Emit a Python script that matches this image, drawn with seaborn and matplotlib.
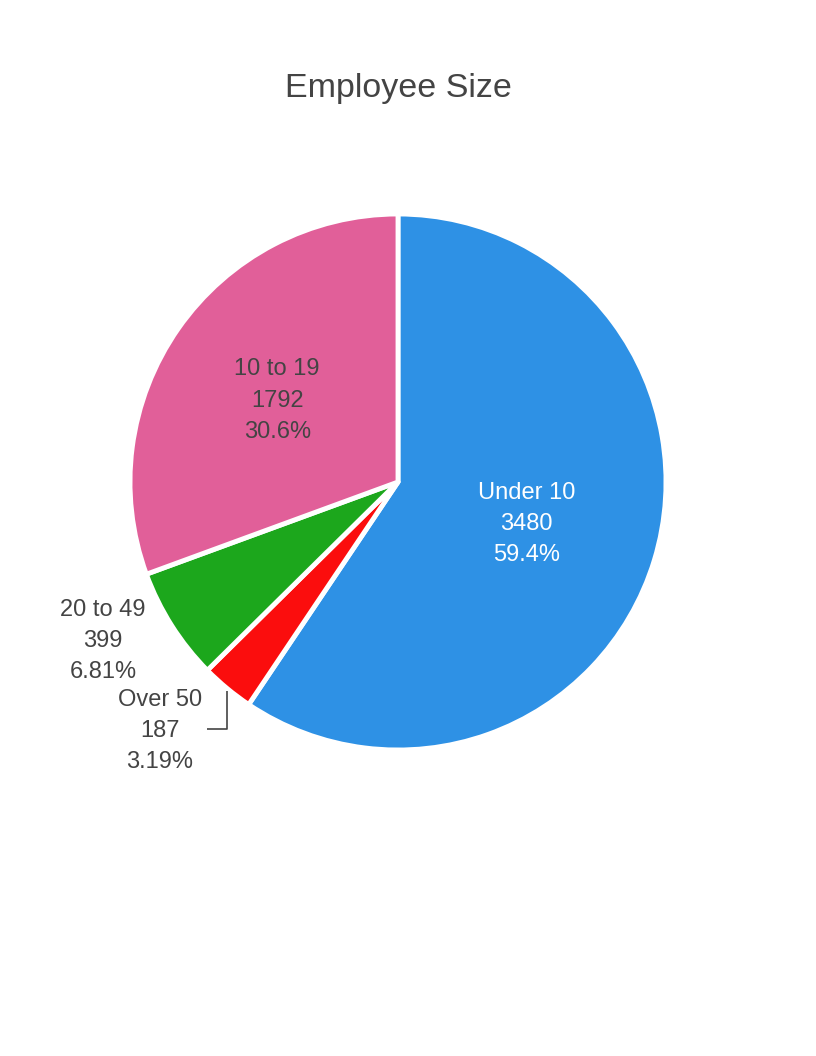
import numpy as np
import matplotlib
matplotlib.use("Agg")
import matplotlib.pyplot as plt
import seaborn as sns

categories = ["Under 10", "Over 50", "20 to 49", "10 to 19"]
values = [3480, 187, 399, 1792]
pct_labels = ["59.4%", "3.19%", "6.81%", "30.6%"]
colors = ["#2E91E5", "#FB0D0D", "#1CA71C", "#E15F99"]

sns.set_theme(style="white")
plt.rcParams['font.family'] = ['Liberation Sans', 'DejaVu Sans']

W, H = 816, 1056
fig = plt.figure(figsize=(W / 100, H / 100), dpi=100)
cx, cy, R = 398, 482, 268
k = 1.45
size = 2 * R * k
ax = fig.add_axes([(cx - size / 2) / W, (H - cy - size / 2) / H, size / W, size / H])

wedges, _ = ax.pie(values, colors=colors, startangle=90, counterclock=False,
                   radius=1.0, wedgeprops=dict(edgecolor="white", linewidth=3.5,
                                               joinstyle="round"))
ax.set_xlim(-k, k)
ax.set_ylim(-k, k)
ax.set_aspect("equal")
ax.axis("off")

fs = 17
ls = 1.55
dy = -3 / R
txt_dark = "#444444"
for i, w in enumerate(wedges):
    mid = np.deg2rad((w.theta1 + w.theta2) / 2)
    label = f"{categories[i]}\n{values[i]}\n{pct_labels[i]}"
    if categories[i] == "Under 10":
        x, y = 0.5 * np.cos(mid), 0.5 * np.sin(mid) + dy
        ax.text(x, y, label, ha="center", va="center", fontsize=fs, color="white",
                linespacing=ls)
    elif categories[i] == "10 to 19":
        x, y = 0.55 * np.cos(mid), 0.55 * np.sin(mid) + dy
        ax.text(x, y, label, ha="center", va="center", fontsize=fs, color=txt_dark,
                linespacing=ls)
    elif categories[i] == "20 to 49":
        x, y = (103 - cx) / R, (cy - 641) / R
        ax.text(x, y, label, ha="center", va="center", fontsize=fs, color=txt_dark,
                linespacing=ls)
    else:
        ex, ey = np.cos(mid), np.sin(mid)
        ly = (cy - 729) / R
        lx_end = (207 - cx) / R
        ax.plot([ex, ex, lx_end], [ey - 0.01, ly, ly], color=txt_dark, lw=1.2,
                solid_capstyle="butt")
        x, y = (160 - cx) / R, (cy - 731) / R
        ax.text(x, y, label, ha="center", va="center", fontsize=fs, color=txt_dark,
                linespacing=ls)

fig.text(398 / W, 1 - 89 / H, "Employee Size", ha="center", va="center",
         fontsize=24.5, color=txt_dark)

fig.savefig("out.png", dpi=100, facecolor="white")
